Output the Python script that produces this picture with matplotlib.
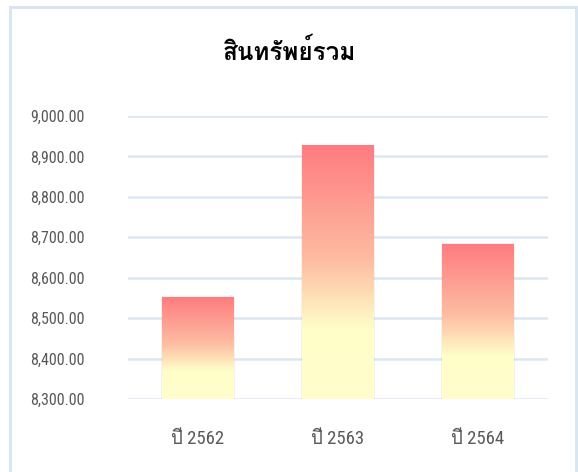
"""
Bar chart of total assets (สินทรัพย์รวม) by year, gradient-filled bars.
Saves out.png.
"""

import numpy as np
import matplotlib
matplotlib.use("Agg")
import matplotlib.pyplot as plt
from matplotlib import font_manager
from matplotlib.ft2font import FT2Font
from matplotlib.colors import LinearSegmentedColormap
from matplotlib.patches import Rectangle
from matplotlib.ticker import FuncFormatter

# ---------------------------------------------------------------------------
# Data
# ---------------------------------------------------------------------------

years = ["ปี 2562", "ปี 2563", "ปี 2564"]
assets = [8552, 8926, 8683]
y_ticks = [8300, 8400, 8500, 8600, 8700, 8800, 8900, 9000]
title = "สินทรัพย์รวม"

# ---------------------------------------------------------------------------
# Find a family that has Thai glyphs
# ---------------------------------------------------------------------------

def thai_families():
    found = []
    for f in font_manager.fontManager.ttflist:
        try:
            if 0x0E2A in FT2Font(f.fname).get_charmap():
                found.append(f.name)
        except Exception:
            pass
    return list(dict.fromkeys(found))

thai = thai_families()
names = {f.name for f in font_manager.fontManager.ttflist}
narrow = [n for n in ["Liberation Sans Narrow", "Roboto Condensed", "Open Sans Condensed",
                      "DejaVu Sans Condensed"] if n in names]
tick_family = narrow + thai + ["DejaVu Sans"]
title_family = thai + ["DejaVu Sans"]

GRID = "#DCE6F2"
TEXT = "#595959"

fig = plt.figure(figsize=(5.78, 4.72), dpi=100)

# chart-area border
fig.patches.append(Rectangle((10 / 578, -0.05), 566 / 578, 1 - 7 / 472 + 0.05,
                             transform=fig.transFigure, facecolor="white",
                             edgecolor="#DAE5F2", linewidth=2.2, zorder=-1))

ax = fig.add_axes([128 / 578, 1 - 399 / 472, 420 / 578, 283 / 472])
ax.set_facecolor("none")

x = np.arange(len(years))
bars = ax.bar(x, assets, width=0.51, color="none", zorder=3)

cmap = LinearSegmentedColormap.from_list(
    "grad", [(0.0, "#FF7C80"), (0.45, "#FDBCA2"), (0.72, "#FFFDC8"), (1.0, "#FFFFCC")])
grad = np.linspace(0, 1, 256).reshape(-1, 1)

for b, v in zip(bars, assets):
    x0 = b.get_x()
    w = b.get_width()
    # soft shadow
    ax.bar(x0 + w / 2, v - 8300 + 3, width=w * 1.04, bottom=8300, color="#000000",
           alpha=0.05, zorder=2)
    ax.imshow(grad, cmap=cmap, aspect="auto", extent=(x0, x0 + w, 8300, v),
              zorder=3, interpolation="bilinear")

ax.set_xlim(-0.5, 2.5)
ax.set_ylim(8300, 9000)

ax.set_yticks(y_ticks)
ax.yaxis.set_major_formatter(FuncFormatter(lambda v, p: f"{v:,.2f}"))
ax.set_xticks(x)
ax.set_xticklabels(years)

for lbl in ax.get_yticklabels():
    lbl.set_family(tick_family)
    lbl.set_fontsize(11.5)
    lbl.set_color(TEXT)
for lbl in ax.get_xticklabels():
    lbl.set_family(tick_family)
    lbl.set_fontsize(13.5)
    lbl.set_color(TEXT)

ax.tick_params(axis="y", length=0, pad=31)
ax.tick_params(axis="x", length=0, pad=22)
ax.grid(axis="y", color=GRID, linewidth=1.8, zorder=0)
ax.set_axisbelow(True)
for s in ax.spines.values():
    s.set_visible(False)

fig.text(290 / 578, 1 - 52 / 472, title, ha="center", va="center",
         fontsize=17.5, fontweight="bold", family=title_family, color="#000000")

fig.savefig("out.png", dpi=100)
print("Saved: out.png")
